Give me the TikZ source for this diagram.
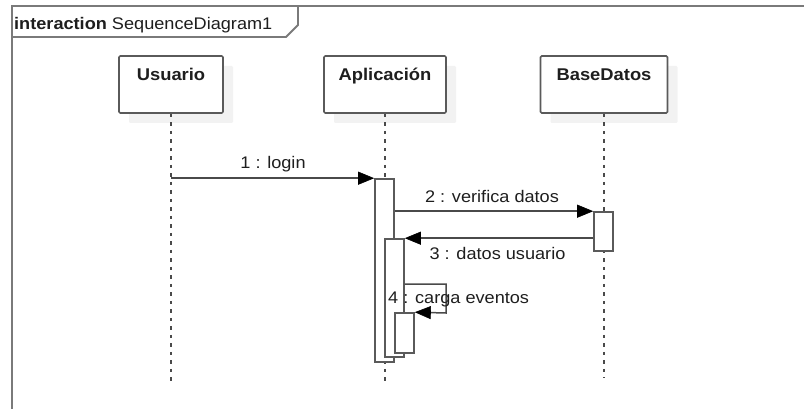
\documentclass[tikz,border=0pt]{standalone}
\usepackage{fontspec}
\setmainfont{Liberation Sans}[FakeStretch=1.08]
\usetikzlibrary{arrows.meta,shadows}
\definecolor{edge}{HTML}{5A5A5A}
\definecolor{framec}{HTML}{7A7A7A}
\definecolor{ink}{HTML}{1E1E1E}
\definecolor{wire}{HTML}{4A4A4A}
\definecolor{shade}{HTML}{F2F2F2}
\begin{document}
\begin{tikzpicture}[x=1pt,y=-1pt,
  every node/.style={font=\fontsize{16.8}{20}\selectfont, text=ink},
  frameline/.style={draw=framec, line width=1.8pt},
  head/.style={draw=edge, line width=1.6pt, fill=white, rounded corners=1.2pt, inner sep=0pt,
    drop shadow={shadow xshift=10pt, shadow yshift=-10pt, fill=shade, opacity=1}},
  headtext/.style={anchor=base, inner sep=0pt, font=\fontsize{17}{20}\selectfont\bfseries},
  lifeline/.style={draw=wire, line width=1.2pt, dash pattern=on 3.5pt off 5pt},
  actbar/.style={draw=edge, line width=1.6pt, fill=white, inner sep=0pt, minimum width=19pt},
  msg/.style={draw=wire, line width=1.5pt,
    -{Triangle[length=16pt,width=13pt,line width=0.6pt,fill=black,color=black]}},
  msgtext/.style={anchor=base, inner sep=0pt}
]
\useasboundingbox (0,0) rectangle (804,409);

% frame of the interaction
\coordinate (fbl) at (12,409);
\coordinate (ftl) at (12,6);
\coordinate (ftr) at (804,6);
\coordinate (tabbl) at (12,37);
\coordinate (tabb) at (286,37);
\coordinate (tabc) at (298,25);
\coordinate (tabt) at (298,6);
\draw[frameline] (fbl) -- (ftl) -- (ftr);
\draw[frameline] (tabbl) -- (tabb) -- (tabc) -- (tabt);
\node[anchor=base west, inner sep=0pt] (title) at (14,30) {\textbf{interaction} SequenceDiagram1};

% lifeline heads
\node[head, minimum width=104pt, minimum height=57pt] (usr) at (171,84.5) {};
\node[head, minimum width=122pt, minimum height=57pt] (app) at (385,84.5) {};
\node[head, minimum width=127pt, minimum height=57pt] (bd) at (604,84.5) {};
\node[headtext] (usrt) at (171,80.5) {Usuario};
\node[headtext] (appt) at (385,80.5) {Aplicación};
\node[headtext] (bdt) at (604,80.5) {BaseDatos};

% lifelines
\coordinate (usrend) at (171,381);
\coordinate (append) at (385,381);
\coordinate (bdend) at (604,378);
\draw[lifeline] (usr.south) -- (usrend);
\draw[lifeline] (app.south) -- (append);
\draw[lifeline] (bd.south) -- (bdend);

% activation bars
\node[actbar, minimum height=183pt] (act1) at (384.5,270.5) {};
\node[actbar, minimum height=118pt] (act2) at (394.5,298) {};
\node[actbar, minimum height=40pt] (act3) at (404.5,333) {};
\node[actbar, minimum height=39pt] (bdact) at (603.5,231.5) {};

% messages
\draw[msg] (usr.south |- act1.north) -- (act1.north west);
\draw[msg] (act1.east |- bdact.north) -- (bdact.north west);
\draw[msg] (bdact.west |- act2.north) -- (act2.north east);
\coordinate (loopa) at (446,284);
\coordinate (loopb) at (446,313);
\draw[msg] (act2.east |- loopa) -- (loopa) -- (loopb) -- (act3.north east);

% message labels
\node[msgtext] (m1) at (273,169) {1 : login};
\node[msgtext] (m2) at (492,203) {2 : verifica datos};
\node[msgtext] (m3) at (497.5,259) {3 : datos usuario};
\node[msgtext, anchor=base west] (m4) at (388,303.5) {4 : carga eventos};
\end{tikzpicture}
\end{document}
